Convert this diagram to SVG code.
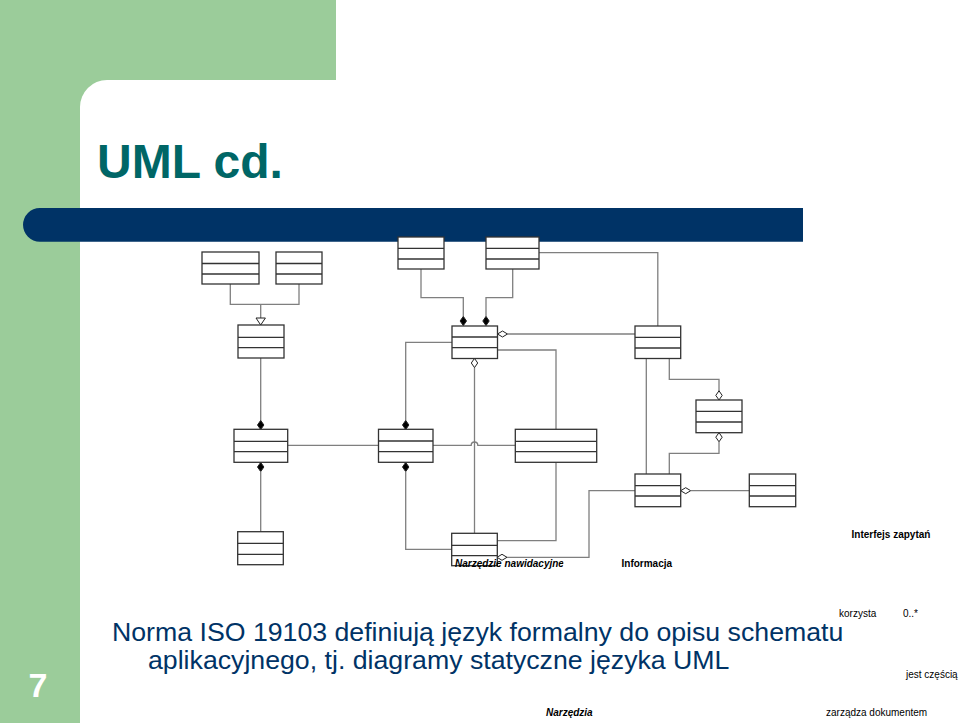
<svg xmlns="http://www.w3.org/2000/svg" xmlns:xlink="http://www.w3.org/1999/xlink" width="960" height="723" viewBox="0 0 960 723">
<style>
.bg{fill:#9BCC9A}
.box rect{fill:#fff;stroke:#333;stroke-width:1.3}
.box line{stroke:#333;stroke-width:1.3}
.con path{fill:none;stroke:#7f7f7f;stroke-width:1.3}
.fd{fill:#000;stroke:#222;stroke-width:1}
.hd{fill:#fff;stroke:#222;stroke-width:1}
.lbl{font-family:"Liberation Sans",Arial,sans-serif;font-size:10px;fill:#000}
.b{font-weight:bold}
.bi{font-weight:bold;font-style:italic}
.body{font-family:"Liberation Sans",Arial,sans-serif;font-size:26.7px;fill:#003366}
</style>
<defs>
<path id="dv" d="M0,-4.6 L3.2,0 L0,4.6 L-3.2,0Z"/>
<path id="dh" d="M-5,0 L0,-3 L5,0 L0,3Z"/>
<clipPath id="clipN"><rect x="440" y="555" width="123.5" height="20"/></clipPath>
</defs>
<rect width="960" height="723" fill="#fff"/>
<rect class="bg" x="0" y="0" width="336" height="110"/>
<rect class="bg" x="0" y="0" width="110" height="723"/>
<rect x="80" y="80" width="920" height="700" rx="27" fill="#fff"/>
<path d="M39.85,208 H803 V241.7 H39.85 A16.85,16.85 0 0 1 39.85,208 Z" fill="#003366"/>
<text x="97" y="178" font-family="Liberation Sans,Arial,sans-serif" font-weight="bold" font-size="48" fill="#006666">UML cd.</text>
<text x="38" y="697" text-anchor="middle" font-family="Liberation Sans,Arial,sans-serif" font-weight="bold" font-size="34" fill="#fff">7</text>

<g id="connectors" class="con">
<path d="M230.3 284 V304.3 H299 V284 M260.7 304.3 V318"/>
<polygon points="256,318 265.4,318 260.7,325" fill="#fff" stroke="#222" stroke-width="1"/>
<path d="M421 269 V297.7 H463.3 V316.5"/>
<use href="#dv" class="fd" x="463.3" y="321"/>
<path d="M512.7 269 V297.7 H486 V316.5"/>
<use href="#dv" class="fd" x="486" y="321"/>
<path d="M539 252.7 H657.8 V326"/>
<path d="M507.5 334 H635"/>
<use href="#dh" class="hd" x="502.5" y="334"/>
<path d="M452 342.3 H405.7 V420.5"/>
<use href="#dv" class="fd" x="405.7" y="425"/>
<path d="M497.5 350 H556 V429.3"/>
<path d="M474.5 367.5 V533.3"/>
<use href="#dv" class="hd" x="474.5" y="363"/>
<path d="M260.7 358 V420.5"/>
<use href="#dv" class="fd" x="260.7" y="425"/>
<use href="#dv" class="fd" x="260.7" y="467"/>
<path d="M260.7 471.5 V531.7"/>
<path d="M287.7 445.3 H378.5 M433 445.3 H471.2 a3.3 3.3 0 0 1 6.6 0 H515.3"/>
<use href="#dv" class="fd" x="405.7" y="467"/>
<path d="M405.7 471.5 V549.3 H451.7"/>
<path d="M497.3 540.7 H556 V462.3"/>
<path d="M507 557.3 H589 V490.7 H635"/>
<use href="#dh" class="hd" x="502" y="557.3"/>
<path d="M646.3 358.3 V474"/>
<path d="M669.3 358.3 V379.3 H719 V391"/>
<use href="#dv" class="hd" x="719" y="395.4"/>
<use href="#dv" class="hd" x="719" y="437.2"/>
<path d="M719 441.7 V453.3 H669.3 V474"/>
<use href="#dh" class="hd" x="685.7" y="490.7"/>
<path d="M690.7 490.7 H749.3"/>
</g>

<g id="nodeA" class="box"><rect x="202" y="252" width="57" height="32"/><line x1="202" y1="263.5" x2="259" y2="263.5"/><line x1="202" y1="274" x2="259" y2="274"/></g>
<g id="nodeB" class="box"><rect x="276" y="252" width="46" height="32"/><line x1="276" y1="263.5" x2="322" y2="263.5"/><line x1="276" y1="274" x2="322" y2="274"/></g>
<g id="nodeC" class="box"><rect x="238" y="325" width="46" height="33"/><line x1="238" y1="337.3" x2="284" y2="337.3"/><line x1="238" y1="347.7" x2="284" y2="347.7"/></g>
<g id="nodeD" class="box"><rect x="398" y="237" width="46" height="32"/><line x1="398" y1="248.3" x2="444" y2="248.3"/><line x1="398" y1="259" x2="444" y2="259"/></g>
<g id="nodeE" class="box"><rect x="486" y="237" width="53" height="32"/><line x1="486" y1="248.3" x2="539" y2="248.3"/><line x1="486" y1="259" x2="539" y2="259"/></g>
<g id="nodeF" class="box"><rect x="452" y="326" width="45.5" height="32.5"/><line x1="452" y1="337" x2="497.5" y2="337"/><line x1="452" y1="347.7" x2="497.5" y2="347.7"/></g>
<g id="nodeG" class="box"><rect x="635" y="326" width="45.7" height="32.5"/><line x1="635" y1="337.3" x2="680.7" y2="337.3"/><line x1="635" y1="348" x2="680.7" y2="348"/></g>
<g id="nodeH" class="box"><rect x="378.5" y="429.3" width="54.5" height="33"/><line x1="378.5" y1="441" x2="433" y2="441"/><line x1="378.5" y1="451.7" x2="433" y2="451.7"/></g>
<g id="nodeI" class="box"><rect x="515.3" y="429.3" width="81.4" height="33"/><line x1="515.3" y1="441.3" x2="596.7" y2="441.3"/><line x1="515.3" y1="451.7" x2="596.7" y2="451.7"/></g>
<g id="nodeK" class="box"><rect x="234" y="429.3" width="53.7" height="33"/><line x1="234" y1="441.3" x2="287.7" y2="441.3"/><line x1="234" y1="451.7" x2="287.7" y2="451.7"/></g>
<g id="nodeL" class="box"><rect x="237.7" y="531.7" width="45.6" height="33"/><line x1="237.7" y1="543.3" x2="283.3" y2="543.3"/><line x1="237.7" y1="554.3" x2="283.3" y2="554.3"/></g>
<g id="nodeJ" class="box"><rect x="451.7" y="533.3" width="45.6" height="32.4"/><line x1="451.7" y1="545.3" x2="497.3" y2="545.3"/><line x1="451.7" y1="555.7" x2="497.3" y2="555.7"/></g>
<g id="nodeN" class="box"><rect x="696" y="400" width="46" height="32.7"/><line x1="696" y1="411.3" x2="742" y2="411.3"/><line x1="696" y1="422" x2="742" y2="422"/></g>
<g id="nodeM" class="box"><rect x="635" y="474" width="45.7" height="32.7"/><line x1="635" y1="485.7" x2="680.7" y2="485.7"/><line x1="635" y1="496" x2="680.7" y2="496"/></g>
<g id="nodeO" class="box"><rect x="749.3" y="474" width="46.4" height="32.7"/><line x1="749.3" y1="485.7" x2="795.7" y2="485.7"/><line x1="749.3" y1="496" x2="795.7" y2="496"/></g>

<g id="labels">
<text class="lbl bi" x="455" y="567" clip-path="url(#clipN)">Narzędzie nawidacyjne</text>
<text class="lbl b" x="621.5" y="567">Informacja</text>
<text class="lbl b" x="851.5" y="538">Interfejs zapytań</text>
<text class="lbl" x="839" y="617">korzysta</text>
<text class="lbl" x="903" y="617">0..*</text>
<text class="lbl" x="906" y="678">jest częścią</text>
<text class="lbl bi" x="546" y="716">Narzędzia</text>
<text class="lbl" x="826" y="716">zarządza dokumentem</text>
</g>
<text class="body" x="112" y="641">Norma ISO 19103 definiują język formalny do opisu schematu</text>
<text class="body" x="148" y="669">aplikacyjnego, tj. diagramy statyczne języka UML</text>
</svg>
